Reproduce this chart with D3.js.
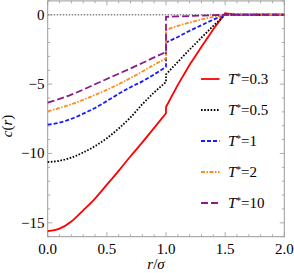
<!DOCTYPE html>
<html>
<head>
<meta charset="utf-8" />
<title>c(r)</title>
<script src="https://d3js.org/d3.v7.min.js"></script>
<style>
    body { margin: 0; background: #fff; }
</style>
</head>
<body>
<script type="text/javascript">
    // r grid below the jump at r = 1 and above it (r = 1 appears in both)
    var rLeft = [0, 0.1, 0.2, 0.3, 0.4, 0.5, 0.6, 0.7, 0.8, 0.9, 1.0];
    var rRight = [1.0, 1.1, 1.2, 1.3, 1.4, 1.5, 1.6, 1.7, 1.8, 1.9, 2.0];

    var labels = ['0.3', '0.5', '1', '2', '10'];

    var c03L = [-15.6, -15.42, -14.9, -14.1, -13.25, -12.25, -11.25, -10.2, -9.2, -8.15, -7.1];
    var c03R = [-6.65, -5.05, -3.6, -2.3, -1.05, 0.12, 0, 0, 0, 0, 0];
    var c05L = [-10.62, -10.52, -10.3, -9.93, -9.47, -8.9, -8.2, -7.4, -6.45, -5.6, -4.85];
    var c05R = [-4.3, -3.4, -2.5, -1.65, -0.8, 0, 0, 0, 0, 0, 0];
    var c1L = [-7.92, -7.78, -7.5, -7.13, -6.72, -6.22, -5.7, -5.22, -4.8, -4.3, -3.75];
    var c1R = [-2.0, -1.6, -1.15, -0.75, -0.35, 0, 0, 0, 0, 0, 0];
    var c2L = [-6.96, -6.72, -6.45, -6.13, -5.78, -5.41, -5.0, -4.56, -4.09, -3.6, -3.15];
    var c2R = [-1.08, -0.8, -0.55, -0.33, -0.15, 0, 0, 0, 0, 0, 0];
    var c10L = [-6.34, -6.07, -5.76, -5.4, -5.01, -4.63, -4.25, -3.87, -3.48, -3.07, -2.68];
    var c10R = [-0.15, -0.12, -0.09, -0.06, -0.03, 0, 0, 0, 0, 0, 0];

    var xTicks = [0, 0.5, 1.0, 1.5, 2.0];
    var yTicks = [0, -5, -10, -15];

    var series = [
        { left: c03L, right: c03R, color: '#ff0000', dash: null },
        { left: c05L, right: c05R, color: '#000000', dash: '1.6,1.6' },
        { left: c1L, right: c1R, color: '#1a1aff', dash: '4,2' },
        { left: c2L, right: c2R, color: '#ff8c1a', dash: '4,1.5,1.5,1.5' },
        { left: c10L, right: c10R, color: '#8b1a8b', dash: '7,3' }
    ];

    var width = 294, height = 273;
    var x0 = 47.7, x1 = 284.3, yTop = 0.9, yBot = 236.7;
    var serif = "'Liberation Serif', 'Times New Roman', serif";

    var svg = d3.select('body')
        .append('svg')
        .attr('width', width)
        .attr('height', height)
        .attr('font-family', serif);

    var x = d3.scaleLinear().domain([0, 2]).range([x0, x1]);
    var y = d3.scaleLinear().domain([-16, 1]).range([yBot, yTop]);

    var frameColor = '#999';

    // frame
    svg.append('rect')
        .attr('x', x0).attr('y', yTop)
        .attr('width', x1 - x0).attr('height', yBot - yTop)
        .attr('fill', 'none')
        .attr('stroke', frameColor)
        .attr('stroke-width', 1);

    // ticks, inward on all four sides
    var xMinor = d3.range(0, 21).map(function (i) { return i / 10; });
    var yMinor = d3.range(-16, 2);
    var isMajorX = function (v) { return Math.abs(v * 2 - Math.round(v * 2)) < 1e-6; };

    xMinor.forEach(function (v) {
        var len = isMajorX(v) ? 4.5 : 2.5;
        [[yBot, -len], [yTop, len]].forEach(function (p) {
            svg.append('line')
                .attr('x1', x(v)).attr('x2', x(v))
                .attr('y1', p[0]).attr('y2', p[0] + p[1])
                .attr('stroke', frameColor).attr('stroke-width', 0.8);
        });
    });
    yMinor.forEach(function (v) {
        var len = (v % 5 === 0) ? 4.5 : 2.5;
        [[x0, len], [x1, -len]].forEach(function (p) {
            svg.append('line')
                .attr('x1', p[0]).attr('x2', p[0] + p[1])
                .attr('y1', y(v)).attr('y2', y(v))
                .attr('stroke', frameColor).attr('stroke-width', 0.8);
        });
    });

    // tick labels
    svg.selectAll('.xlab')
        .data(xTicks)
        .enter()
        .append('text')
        .attr('x', function (d) { return x(d); })
        .attr('y', 253.5)
        .attr('text-anchor', 'middle')
        .attr('font-size', 15)
        .text(function (d) { return d.toFixed(1); });

    svg.selectAll('.ylab')
        .data(yTicks)
        .enter()
        .append('text')
        .attr('x', 44.5)
        .attr('y', function (d) { return y(d) + 5; })
        .attr('text-anchor', 'end')
        .attr('font-size', 15)
        .text(function (d) { return d < 0 ? '\u2212' + (-d) : d; });

    // axis titles
    var xt = svg.append('text')
        .attr('x', 156).attr('y', 268.5)
        .attr('text-anchor', 'middle')
        .attr('font-size', 15);
    xt.append('tspan').attr('font-style', 'italic').text('r');
    xt.append('tspan').text('/');
    xt.append('tspan').attr('font-style', 'italic').text('\u03c3');

    var yt = svg.append('text')
        .attr('transform', 'translate(12,126) rotate(-90)')
        .attr('text-anchor', 'middle')
        .attr('font-size', 15);
    yt.append('tspan').attr('font-style', 'italic').text('c');
    yt.append('tspan').text('(');
    yt.append('tspan').attr('font-style', 'italic').text('r');
    yt.append('tspan').text(')');

    // zero reference line
    svg.append('line')
        .attr('x1', x(0)).attr('x2', x(2))
        .attr('y1', y(0)).attr('y2', y(0))
        .attr('stroke', '#888')
        .attr('stroke-width', 1.3)
        .attr('stroke-dasharray', '1.5,1.5');

    var smooth = d3.line()
        .x(function (d) { return x(d[0]); })
        .y(function (d) { return y(d[1]); })
        .curve(d3.curveMonotoneX);
    var straight = d3.line()
        .x(function (d) { return x(d[0]); })
        .y(function (d) { return y(d[1]); });

    series.forEach(function (s) {
        var left = rLeft.map(function (r, i) { return [r, s.left[i]]; });
        var right = rRight.map(function (r, i) { return [r, s.right[i]]; });
        var d = smooth(left) + 'L' + straight(right).slice(1);
        var p = svg.append('path')
            .attr('d', d)
            .attr('fill', 'none')
            .attr('stroke', s.color)
            .attr('stroke-width', 1.8);
        if (s.dash) p.attr('stroke-dasharray', s.dash);
    });

    // legend
    var legY = [79, 110, 141, 172, 203];
    series.forEach(function (s, i) {
        var l = svg.append('line')
            .attr('x1', 201).attr('x2', 219.5)
            .attr('y1', legY[i]).attr('y2', legY[i])
            .attr('stroke', s.color)
            .attr('stroke-width', 1.8);
        if (s.dash) l.attr('stroke-dasharray', s.dash);

        var t = svg.append('text')
            .attr('x', 228)
            .attr('y', legY[i] + 5)
            .attr('font-size', 15);
        t.append('tspan').attr('font-style', 'italic').text('T');
        t.append('tspan').attr('font-size', 9.5).attr('dy', -4.5).text('*');
        t.append('tspan').attr('dy', 4.5).text('=' + labels[i]);
    });
</script>
</body>
</html>
